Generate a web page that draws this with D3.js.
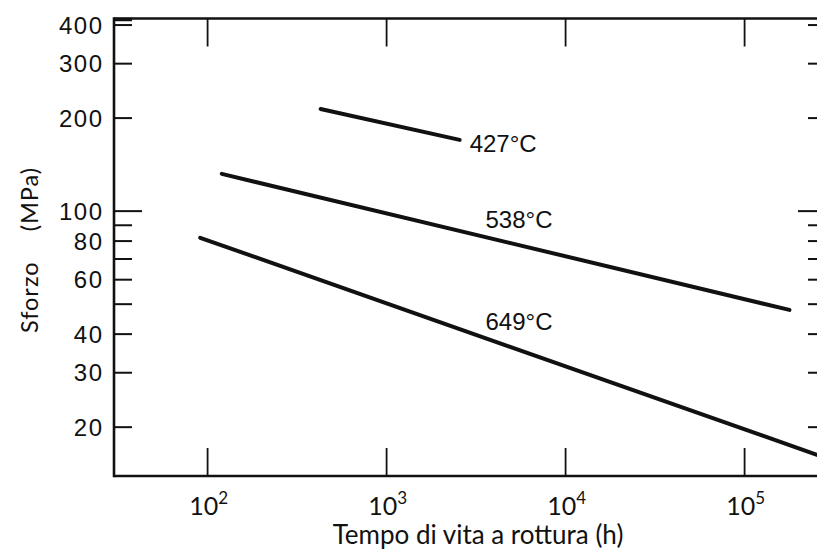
<!DOCTYPE html>
<html>
<head>
<meta charset="utf-8">
<script src="https://cdn.jsdelivr.net/npm/d3@7/dist/d3.min.js"></script>
<style>
  html, body { margin: 0; padding: 0; background: #fff; }
  svg { display: block; }
  text { fill: #111; }
  .num { font-family: "Liberation Sans", Arial, sans-serif; }
  .hum { font-family: Lato, "Open Sans", sans-serif; }
</style>
</head>
<body>
<svg id="chart" width="817" height="550"></svg>
<script>
// Creep-rupture curves: stress vs. time to rupture at three temperatures.
const temperatures = ["427°C", "538°C", "649°C"];

// Rupture time (h) and stress (MPa) at each end of the straight log-log lines
const rupture427 = [ { t: 428, s: 214 }, { t: 2560, s: 170 } ];
const rupture538 = [ { t: 120, s: 132 }, { t: 178000, s: 47.9 } ];
const rupture649 = [ { t: 91, s: 82 }, { t: 285000, s: 15.9 } ];

// Anchor (time, stress) of each curve's temperature label
const labelAnchors = [ { t: 2910, s: 155 }, { t: 3570, s: 88 }, { t: 3570, s: 41.2 } ];

// Axis ticks
const xTickValues = [1e2, 1e3, 1e4, 1e5];
const xTickExponents = ["2", "3", "4", "5"];
const yTickValues = [20, 30, 40, 50, 60, 70, 80, 90, 100, 200, 300, 400];
const yTickLabels = ["20", "30", "40", "", "60", "", "80", "", "100", "200", "300", "400"];

const xDomain = [30, 285000];
const yDomain = [13.9, 420];

const svg = d3.select("#chart");
const plot = { left: 114, right: 826, top: 18.5, bottom: 476 };

const x = d3.scaleLog().domain(xDomain).range([plot.left, plot.right]);
const y = d3.scaleLog().domain(yDomain).range([plot.bottom, plot.top]);

// Clip region for the curves
svg.append("defs").append("clipPath").attr("id", "plotClip")
  .append("rect").attr("x", plot.left).attr("y", plot.top)
  .attr("width", plot.right - plot.left).attr("height", plot.bottom - plot.top);

// Frame
const frame = svg.append("g").attr("stroke", "#111").attr("fill", "none");
frame.append("line").attr("x1", plot.left).attr("x2", plot.right)
  .attr("y1", plot.bottom).attr("y2", plot.bottom).attr("stroke-width", 2.4);
frame.append("line").attr("x1", plot.left).attr("x2", plot.right)
  .attr("y1", plot.top).attr("y2", plot.top).attr("stroke-width", 2.4);
frame.append("line").attr("x1", plot.left).attr("x2", plot.left)
  .attr("y1", plot.top - 1.2).attr("y2", plot.bottom + 1.2).attr("stroke-width", 2.6);
frame.append("line").attr("x1", plot.right).attr("x2", plot.right)
  .attr("y1", plot.top).attr("y2", plot.bottom).attr("stroke-width", 2.4);
// heavier stub at the top-left corner
frame.append("line").attr("x1", plot.left).attr("x2", plot.left + 18)
  .attr("y1", plot.top + 1).attr("y2", plot.top + 1).attr("stroke-width", 3.5);

// Left axis ticks (inward) and labels
const yTickLen = v => (v === 100 ? 28 : 18);
const yAxisL = svg.append("g");
yAxisL.selectAll("line").data(yTickValues).join("line")
  .attr("x1", plot.left).attr("x2", d => plot.left + yTickLen(d))
  .attr("y1", d => y(d)).attr("y2", d => y(d))
  .attr("stroke", "#111").attr("stroke-width", 2);
yAxisL.selectAll("text").data(yTickValues).join("text")
  .attr("class", "num")
  .attr("x", plot.left - 10.5).attr("y", d => y(d) + 8.5)
  .attr("text-anchor", "end")
  .attr("font-size", 24).attr("letter-spacing", 1.5)
  .text((d, i) => yTickLabels[i]);

// Right axis ticks (inward)
svg.append("g").selectAll("line").data(yTickValues).join("line")
  .attr("x1", plot.right).attr("x2", d => plot.right - yTickLen(d))
  .attr("y1", d => y(d)).attr("y2", d => y(d))
  .attr("stroke", "#111").attr("stroke-width", 2);

// Bottom and top ticks (inward)
const xt = svg.append("g");
xt.selectAll("line.b").data(xTickValues).join("line").attr("class", "b")
  .attr("x1", d => x(d)).attr("x2", d => x(d))
  .attr("y1", plot.bottom).attr("y2", plot.bottom - 28)
  .attr("stroke", "#111").attr("stroke-width", 1.8);
xt.selectAll("line.t").data(xTickValues).join("line").attr("class", "t")
  .attr("x1", d => x(d)).attr("x2", d => x(d))
  .attr("y1", plot.top).attr("y2", plot.top + 28)
  .attr("stroke", "#111").attr("stroke-width", 1.8);

// Power-of-ten labels
const xl = svg.append("g").selectAll("text").data(xTickValues).join("text")
  .attr("class", "hum")
  .attr("x", d => x(d) + 1).attr("y", plot.bottom + 39)
  .attr("text-anchor", "middle")
  .attr("font-size", 25);
xl.append("tspan").text("10");
xl.append("tspan").attr("font-size", 17).attr("dy", -11).text((d, i) => xTickExponents[i]);

// Axis titles
svg.append("text")
  .attr("class", "hum")
  .attr("x", 478).attr("y", 544)
  .attr("text-anchor", "middle").attr("font-size", 26)
  .text("Tempo di vita a rottura (h)");
const yTitle = svg.append("text")
  .attr("class", "hum")
  .attr("transform", "translate(38,250) rotate(-90)")
  .attr("text-anchor", "middle").attr("font-size", 23.5)
  .attr("letter-spacing", 1);
yTitle.append("tspan").text("Sforzo");
yTitle.append("tspan").attr("dx", 30).text("(MPa)");

// Curves
const line = d3.line().x(d => x(d.t)).y(d => y(d.s));
const curves = [rupture427, rupture538, rupture649];
svg.append("g").attr("clip-path", "url(#plotClip)")
  .selectAll("path").data(curves).join("path")
  .attr("d", line)
  .attr("fill", "none").attr("stroke", "#111")
  .attr("stroke-width", 4).attr("stroke-linecap", "round");

// Temperature labels
svg.append("g").selectAll("text").data(labelAnchors).join("text")
  .attr("class", "num")
  .attr("x", d => x(d.t)).attr("y", d => y(d.s))
  .attr("font-size", 24)
  .text((d, i) => temperatures[i]);
</script>
</body>
</html>
